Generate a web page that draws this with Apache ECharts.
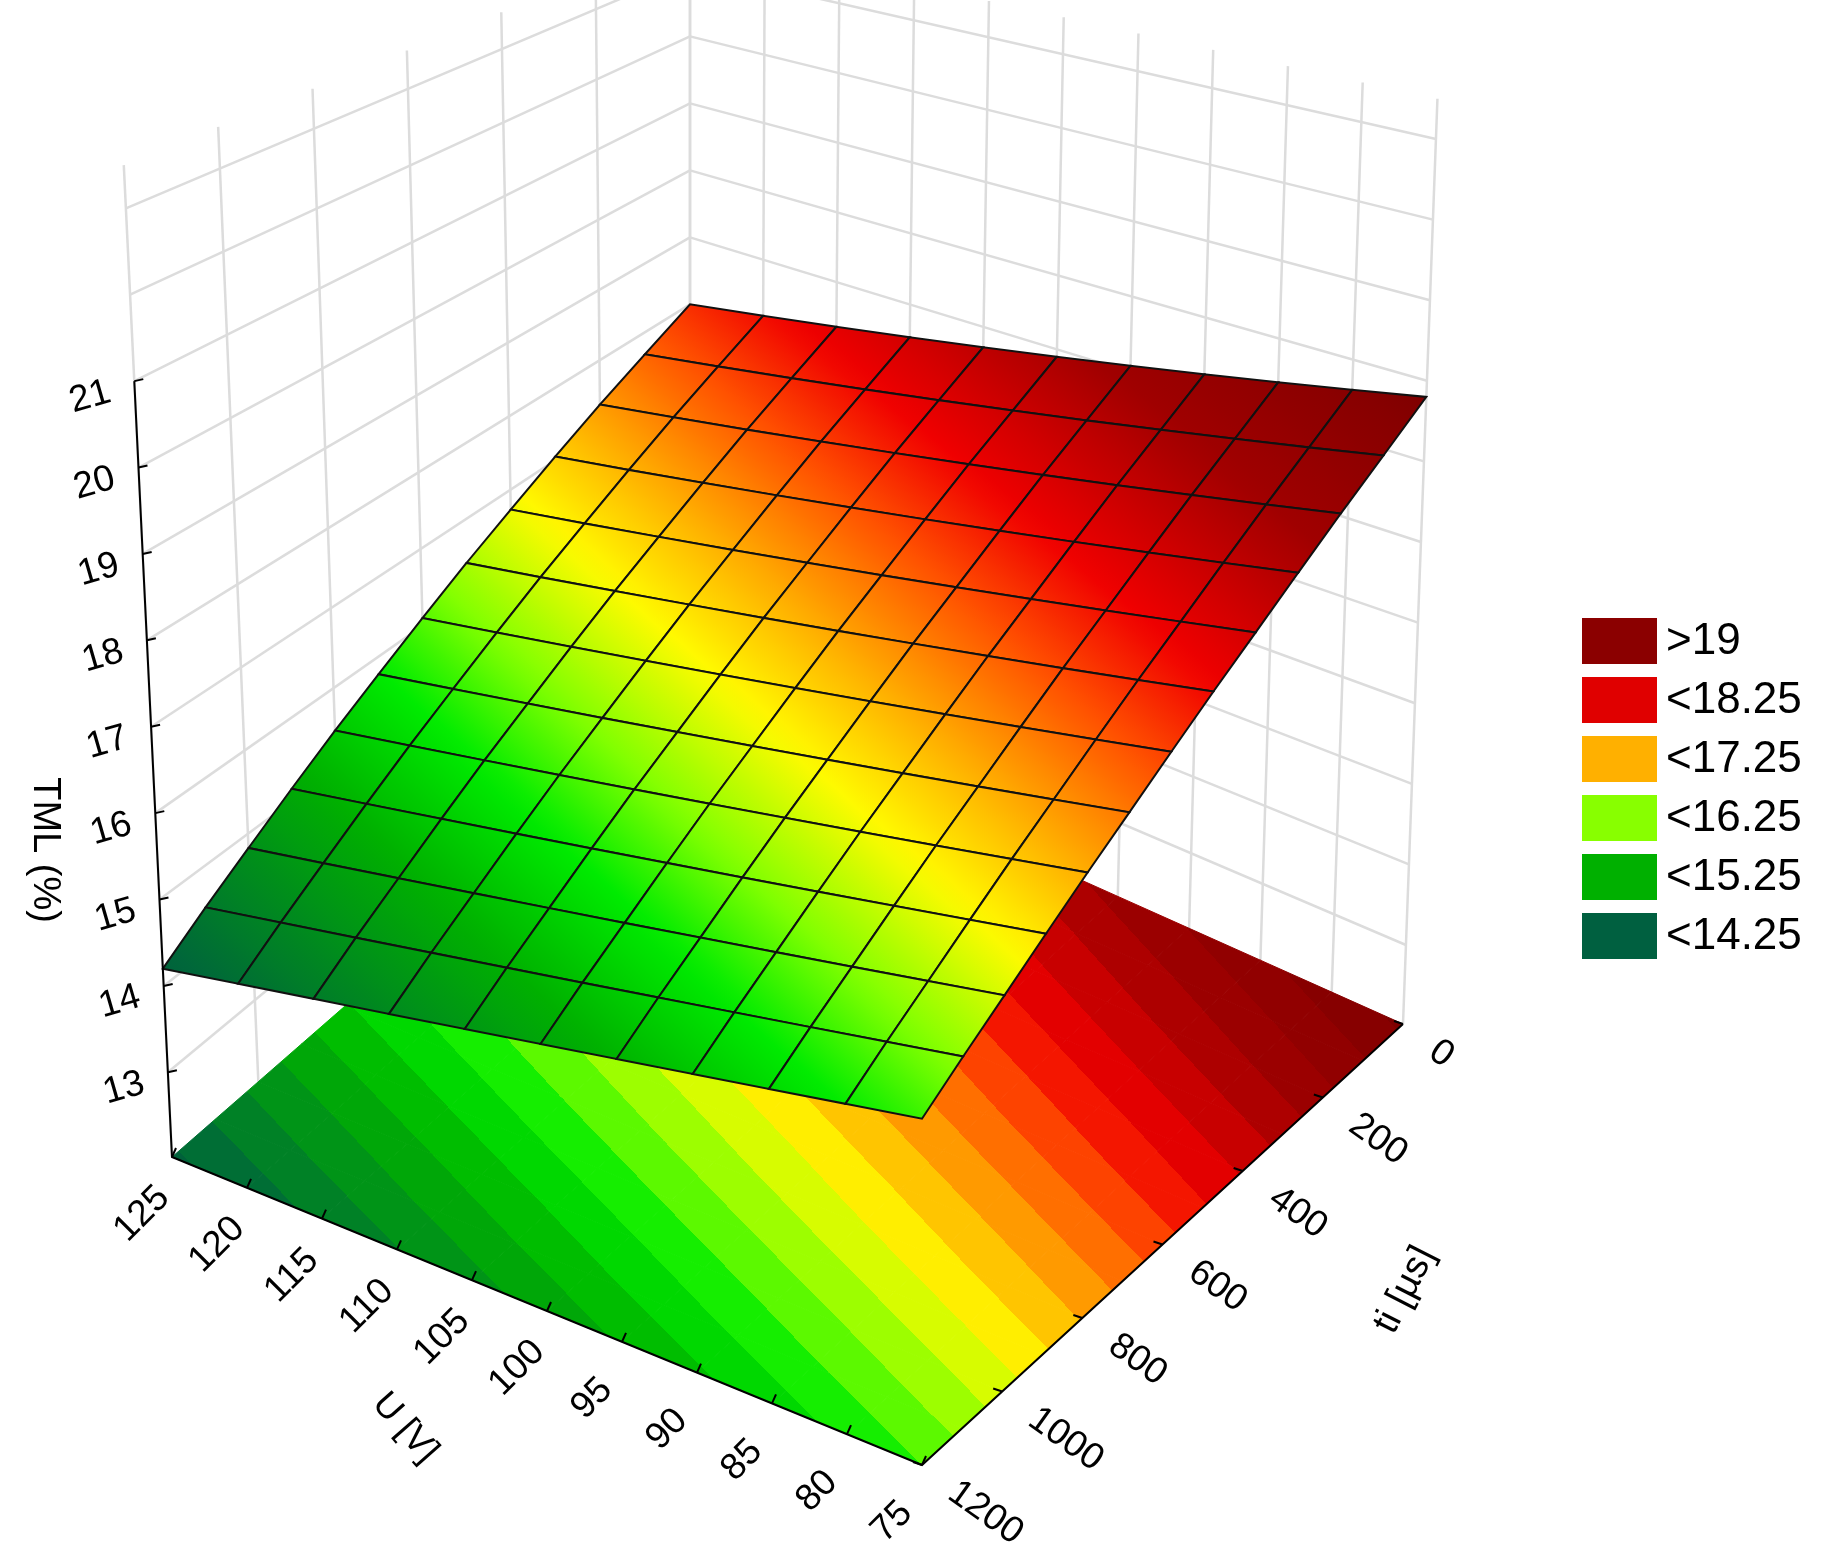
<!DOCTYPE html>
<html><head><meta charset="utf-8">
<script src="https://cdn.jsdelivr.net/npm/echarts@6/dist/echarts.min.js"></script>
<style>html,body{margin:0;background:#fff}#c{width:1839px;height:1547px}</style>
</head><body><div id="c"></div>
<script>
// ---- data ----
const U_VALUES = [125,120,115,110,105,100,95,90,85,80,75];
const TI_VALUES = [1200,1100,1000,900,800,700,600,500,400,300,200,100,0];
// TML (%) values, rows = TI_VALUES, columns = U_VALUES
const TML = [
 [14.20,14.38,14.56,14.74,14.92,15.10,15.28,15.46,15.64,15.82,16.00],
 [14.52,14.70,14.88,15.06,15.24,15.42,15.60,15.78,15.96,16.14,16.32],
 [14.83,15.01,15.19,15.37,15.55,15.73,15.91,16.09,16.27,16.45,16.63],
 [15.15,15.33,15.51,15.69,15.87,16.05,16.23,16.41,16.59,16.77,16.95],
 [15.47,15.65,15.83,16.01,16.19,16.37,16.55,16.73,16.91,17.09,17.27],
 [15.78,15.96,16.14,16.32,16.50,16.68,16.86,17.04,17.22,17.40,17.58],
 [16.10,16.28,16.46,16.64,16.82,17.00,17.18,17.36,17.54,17.72,17.90],
 [16.42,16.60,16.78,16.96,17.14,17.32,17.50,17.68,17.86,18.04,18.22],
 [16.73,16.91,17.09,17.27,17.45,17.63,17.81,17.99,18.17,18.35,18.53],
 [17.05,17.23,17.41,17.59,17.77,17.95,18.13,18.31,18.49,18.67,18.85],
 [17.37,17.55,17.73,17.91,18.09,18.27,18.45,18.63,18.81,18.99,19.17],
 [17.68,17.86,18.04,18.22,18.40,18.58,18.76,18.94,19.12,19.30,19.48],
 [18.00,18.18,18.36,18.54,18.72,18.90,19.08,19.26,19.44,19.62,19.80]
];
const U_TICKS = [125,120,115,110,105,100,95,90,85,80,75];
const TI_TICKS = [1200,1000,800,600,400,200,0];
const Z_TICKS = [13,14,15,16,17,18,19,20,21];
const LEGEND_LABELS = ['>19','<18.25','<17.25','<16.25','<15.25','<14.25'];
const LEGEND_COLORS = ['#8b0000','#e00000','#ffb000','#88ff00','#00b000','#006040'];

// ---- projection (bilinear box with mild perspective) ----
const Z_MIN = 12.02, Z_MAX = 21, Z_TOP = 23.5;
const CL=[172,1157], CF=[922,1465], CR=[1403,1024], CB=[690,705];
const SL=86.4, SF=87, SR=80.6, SB=67;
const XL=-4.2, XF=0, XR=3, XB=0;
function bil(l,f,r,b,u,t){return (1-u)*(1-t)*l+u*(1-t)*f+u*t*r+(1-u)*t*b;}
function P(U, ti, z){
  const u=(125-U)/50, t=(1200-ti)/1200;
  const x=bil(CL[0],CF[0],CR[0],CB[0],u,t), y=bil(CL[1],CF[1],CR[1],CB[1],u,t);
  const s=bil(SL,SF,SR,SB,u,t), dx=bil(XL,XF,XR,XB,u,t);
  return [x+dx*(z-Z_MIN), y-s*(z-Z_MIN)];
}
const STOPS = [[13.5,[0,80,50]],[14.25,[0,100,60]],[15.25,[0,176,0]],[15.8,[0,235,0]],[16.25,[128,255,0]],[16.8,[255,250,0]],[17.25,[255,176,0]],[17.8,[255,80,0]],[18.25,[240,0,0]],[19,[160,0,0]],[20,[120,0,0]]];
function col(z){
  if (z<=STOPS[0][0]) return 'rgb('+STOPS[0][1]+')';
  for (let i=1;i<STOPS.length;i++){
    if (z<=STOPS[i][0]){
      const a=STOPS[i-1], b=STOPS[i], f=(z-a[0])/(b[0]-a[0]);
      return 'rgb('+a[1].map((v,k)=>Math.round(v+(b[1][k]-v)*f)).join(',')+')';
    }
  }
  return 'rgb('+STOPS[STOPS.length-1][1]+')';
}
const cells = [];
for (let k=0;k<TI_VALUES.length-1;k++) for (let j=0;j<U_VALUES.length-1;j++) cells.push([k,j]);
cells.sort((a,b)=>(a[1]-a[0])-(b[1]-b[0]));

function cellPts(k,j,floor){
  const c=[[k,j],[k,j+1],[k+1,j+1],[k+1,j]];
  return c.map(([a,b])=>P(U_VALUES[b],TI_VALUES[a],floor?Z_MIN:TML[a][b]));
}
function cellFill(k,j,floor){
  const pts=cellPts(k,j,floor);
  const z00=TML[k][j], z01=TML[k][j+1], z10=TML[k+1][j];
  const vs=[z00,z01,TML[k+1][j+1],z10];
  const a=[pts[1][0]-pts[0][0],pts[1][1]-pts[0][1]], b=[pts[3][0]-pts[0][0],pts[3][1]-pts[0][1]];
  const da=z01-z00, db=z10-z00, det=a[0]*b[1]-a[1]*b[0];
  const g=[(da*b[1]-db*a[1])/det,(db*a[0]-da*b[0])/det];
  const g2=g[0]*g[0]+g[1]*g[1];
  const zmin=Math.min(...vs), zmax=Math.max(...vs);
  const A=[pts[0][0]+g[0]*(zmin-z00)/g2, pts[0][1]+g[1]*(zmin-z00)/g2];
  const B=[pts[0][0]+g[0]*(zmax-z00)/g2, pts[0][1]+g[1]*(zmax-z00)/g2];
  const stops=[];
  if (floor){
    const q=z=>col(Math.floor(z*4)/4+0.125);
    stops.push({offset:0,color:q(zmin)});
    for (let e=Math.ceil(zmin*4)/4;e<zmax;e+=0.25){
      const o=(e-zmin)/(zmax-zmin);
      stops.push({offset:o,color:q(e-0.01)},{offset:o,color:q(e+0.01)});
    }
    stops.push({offset:1,color:q(zmax-0.001)});
  } else {
    for (let i=0;i<=6;i++) stops.push({offset:i/6,color:col(zmin+(zmax-zmin)*i/6)});
  }
  return {pts, fill:new echarts.graphic.LinearGradient(A[0],A[1],B[0],B[1],stops,true)};
}

// walls
const wallLines = [];
const ZL = Z_TICKS.concat([22,23]);
TI_TICKS.forEach(ti=>wallLines.push([P(125,ti,Z_MIN),P(125,ti,Z_TOP)]));
ZL.forEach(z=>wallLines.push([P(125,1200,z),P(125,0,z)]));
U_TICKS.forEach(U=>wallLines.push([P(U,0,Z_MIN),P(U,0,Z_TOP)]));
ZL.forEach(z=>wallLines.push([P(125,0,z),P(75,0,z)]));

const font = '"Liberation Sans", Arial, sans-serif';
const graphics = [];
Z_TICKS.forEach(z=>{
  const p=P(125,1200,z);
  graphics.push({type:'line',shape:{x1:p[0],y1:p[1],x2:p[0]+9,y2:p[1]-2},style:{stroke:'#000',lineWidth:2},z:50});
  graphics.push({type:'text',x:p[0]-44,y:p[1]+16,rotation:0.28,style:{text:String(z),font:'37px '+font,fill:'#000',align:'center',verticalAlign:'middle'},z:50});
});
U_TICKS.forEach(U=>{
  const p=P(U,1200,Z_MIN);
  graphics.push({type:'text',x:p[0]-30,y:p[1]+57,rotation:Math.PI/4,style:{text:String(U),font:'37px '+font,fill:'#000',align:'center',verticalAlign:'middle'},z:50});
});
TI_TICKS.forEach(ti=>{
  const p=P(75,ti,Z_MIN);
  graphics.push({type:'text',x:p[0]+30,y:p[1]+24,rotation:-0.62,style:{text:String(ti),font:'37px '+font,fill:'#000',align:'left',verticalAlign:'middle'},z:50});
});
graphics.push({type:'text',x:44,y:850,rotation:-Math.PI/2,style:{text:'TML (%)',font:'38px '+font,fill:'#000',align:'center',verticalAlign:'middle'},z:50});
graphics.push({type:'text',x:405,y:1428,rotation:-0.85,style:{text:'U [V]',font:'36px '+font,fill:'#000',align:'center',verticalAlign:'middle'},z:50});
graphics.push({type:'text',x:1405,y:1290,rotation:1.1,style:{text:'ti [µs]',font:'38px '+font,fill:'#000',align:'center',verticalAlign:'middle'},z:50});
LEGEND_LABELS.forEach((l,i)=>{
  const y=618+i*59;
  graphics.push({type:'rect',shape:{x:1582,y:y,width:75,height:46},style:{fill:LEGEND_COLORS[i]},z:50});
  graphics.push({type:'text',x:1666,y:y+24,style:{text:l,font:'44px '+font,fill:'#000',verticalAlign:'middle'},z:50});
});
const a0=P(125,1200,Z_MIN), a1=P(125,1200,Z_MAX), f1=P(75,1200,Z_MIN), f2=P(75,0,Z_MIN);
graphics.push({type:'polyline',shape:{points:[a1,a0,f1,f2]},style:{stroke:'#000',lineWidth:2,fill:null},z:40});
U_TICKS.forEach(U=>{const p=P(U,1200,Z_MIN);graphics.push({type:'line',shape:{x1:p[0],y1:p[1],x2:p[0]+4,y2:p[1]-9},style:{stroke:'#000',lineWidth:2},z:40});});
TI_TICKS.forEach(ti=>{const p=P(75,ti,Z_MIN);graphics.push({type:'line',shape:{x1:p[0],y1:p[1],x2:p[0]-9,y2:p[1]-3},style:{stroke:'#000',lineWidth:2},z:40});});

const chart = echarts.init(document.getElementById('c'),null,{renderer:'canvas'});
chart.setOption({
  animation:false,
  backgroundColor:'#fff',
  graphic:graphics,
  series:[
    {type:'custom',coordinateSystem:'none',data:wallLines.map((_,i)=>i),z:1,
     renderItem:(params)=>{const l=wallLines[params.dataIndex];return {type:'line',shape:{x1:l[0][0],y1:l[0][1],x2:l[1][0],y2:l[1][1]},style:{stroke:'#dcdcdc',lineWidth:2.5}};}},
    {type:'custom',coordinateSystem:'none',data:cells,z:2,
     renderItem:(params)=>{const [k,j]=cells[params.dataIndex];const c=cellFill(k,j,true);return {type:'polygon',shape:{points:c.pts},style:{fill:c.fill,stroke:c.fill,lineWidth:1}};}},
    {type:'custom',coordinateSystem:'none',data:cells,z:3,
     renderItem:(params)=>{const [k,j]=cells[params.dataIndex];const c=cellFill(k,j,false);return {type:'polygon',shape:{points:c.pts},style:{fill:c.fill,stroke:'#111',lineWidth:2}};}}
  ]
});
</script></body></html>
